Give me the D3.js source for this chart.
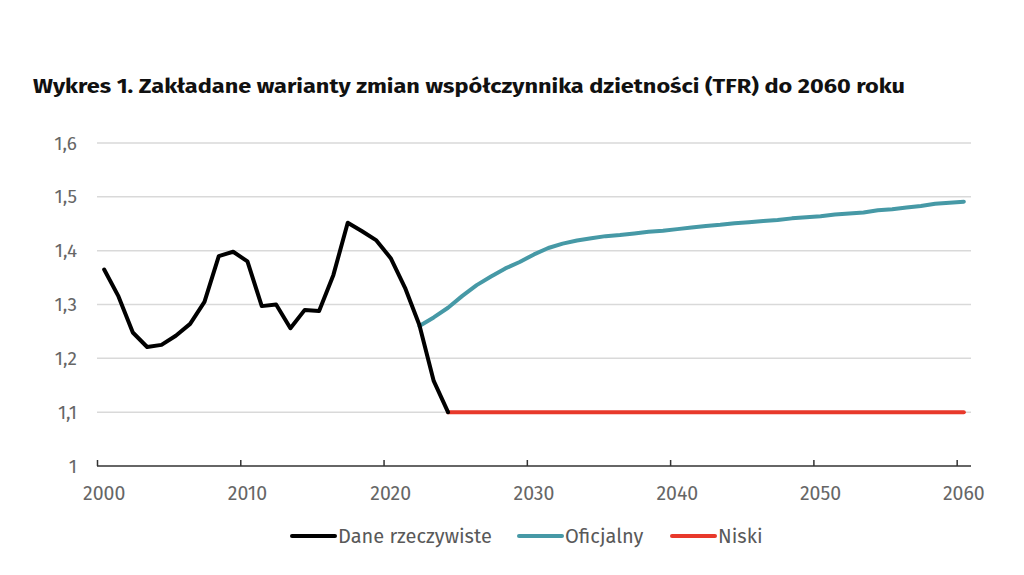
<!DOCTYPE html>
<html>
<head>
<meta charset="utf-8">
<script src="https://cdn.jsdelivr.net/npm/d3@7"></script>
<style>
  body { margin: 0; background: #fff; }
  text { font-family: "Fira Sans", "Open Sans", "Noto Sans", sans-serif; }
</style>
</head>
<body>
<div id="chart"></div>
<script>
// dane TFR
var actualYears = d3.range(2000, 2025);
var actualValues = [1.365, 1.315, 1.248, 1.221, 1.225, 1.242, 1.264, 1.305, 1.390, 1.398,
  1.380, 1.297, 1.300, 1.256, 1.290, 1.288, 1.355, 1.452, 1.436, 1.419,
  1.386, 1.331, 1.262, 1.158, 1.100];

var officialYears = d3.range(2022, 2061);
var officialValues = [1.260, 1.276, 1.294, 1.316, 1.336, 1.352, 1.367, 1.379, 1.393, 1.405,
  1.413, 1.419, 1.423, 1.427, 1.429, 1.432, 1.435, 1.437, 1.440, 1.443,
  1.446, 1.448, 1.451, 1.453, 1.455, 1.457, 1.460, 1.462, 1.464, 1.467,
  1.469, 1.471, 1.475, 1.477, 1.480, 1.483, 1.487, 1.489, 1.491];

var lowYears = d3.range(2024, 2061);
var lowValues = lowYears.map(function() { return 1.1; });

var yTicks = [1, 1.1, 1.2, 1.3, 1.4, 1.5, 1.6];
var xTicks = [2000, 2010, 2020, 2030, 2040, 2050, 2060];

var seriesNames = ['Dane rzeczywiste', 'Oficjalny', 'Niski'];
var seriesColors = ['#000000', '#4699a6', '#e8392b'];

var W = 1024, H = 575;
var plotLeft = 97, plotRight = 971, plotTop = 143, plotBottom = 466;

var svg = d3.select('#chart').append('svg')
  .attr('width', W)
  .attr('height', H);

svg.append('text')
  .attr('x', 33)
  .attr('y', 93)
  .attr('font-size', '19px')
  .attr('font-weight', 'bold')
  .attr('fill', '#111')
  .attr('textLength', 872)
  .attr('lengthAdjust', 'spacingAndGlyphs')
  .text('Wykres 1. Zakładane warianty zmian współczynnika dzietności (TFR) do 2060 roku');

// os X: kategorie lat, ticki na granicach
var x = d3.scaleLinear().domain([2000, 2061]).range([plotLeft, plotRight]);
var y = d3.scaleLinear().domain([1, 1.6]).range([plotBottom, plotTop]);

var fmt = function(d) { return d3.format('.1f')(d).replace('.', ','); };

// siatka
svg.append('g')
  .selectAll('line')
  .data(yTicks.filter(function(d) { return d > 1; }))
  .join('line')
  .attr('x1', plotLeft)
  .attr('x2', plotRight)
  .attr('y1', function(d) { return y(d); })
  .attr('y2', function(d) { return y(d); })
  .attr('stroke', '#d9d9d9')
  .attr('stroke-width', 1.5);

svg.append('g')
  .selectAll('text')
  .data(yTicks)
  .join('text')
  .attr('x', 77)
  .attr('y', function(d) { return y(d); })
  .attr('dy', '0.35em')
  .attr('text-anchor', 'end')
  .attr('font-size', '19px')
  .attr('fill', '#666')
  .text(function(d) { return d === 1 ? '1' : fmt(d); });

var xAxis = svg.append('g')
  .attr('transform', 'translate(0,' + plotBottom + ')')
  .call(d3.axisTop(x).tickValues(xTicks).tickSize(6).tickFormat(''));
xAxis.select('.domain').attr('stroke', '#333').attr('stroke-width', 1.5).attr('d', 'M' + plotLeft + ',0H' + plotRight);
xAxis.selectAll('.tick line').attr('stroke', '#333').attr('stroke-width', 1.5);

svg.append('g')
  .selectAll('text')
  .data(xTicks)
  .join('text')
  .attr('x', function(d) { return x(d + 0.5); })
  .attr('y', 500)
  .attr('text-anchor', 'middle')
  .attr('font-size', '19.5px')
  .attr('fill', '#666')
  .text(function(d) { return d; });

var line = d3.line()
  .x(function(d) { return x(d[0] + 0.5); })
  .y(function(d) { return y(d[1]); });

var series = [
  d3.zip(actualYears, actualValues),
  d3.zip(officialYears, officialValues),
  d3.zip(lowYears, lowValues)
];

// najpierw prognozy, potem dane rzeczywiste na wierzchu
[1, 2, 0].forEach(function(i) {
  svg.append('path')
    .datum(series[i])
    .attr('d', line)
    .attr('fill', 'none')
    .attr('stroke', seriesColors[i])
    .attr('stroke-width', 4)
    .attr('stroke-linejoin', 'round')
    .attr('stroke-linecap', 'round');
});

// legenda
var legendX = [292, 519, 672];
var legend = svg.append('g')
  .selectAll('g')
  .data(seriesNames)
  .join('g')
  .attr('transform', function(d, i) { return 'translate(' + legendX[i] + ',536)'; });

legend.append('line')
  .attr('x1', 0)
  .attr('x2', 43)
  .attr('stroke', function(d, i) { return seriesColors[i]; })
  .attr('stroke-width', 4)
  .attr('stroke-linecap', 'round');

legend.append('text')
  .attr('x', 46)
  .attr('dy', '0.35em')
  .attr('font-size', '20px')
  .attr('fill', '#595959')
  .text(function(d) { return d; });
</script>
</body>
</html>
